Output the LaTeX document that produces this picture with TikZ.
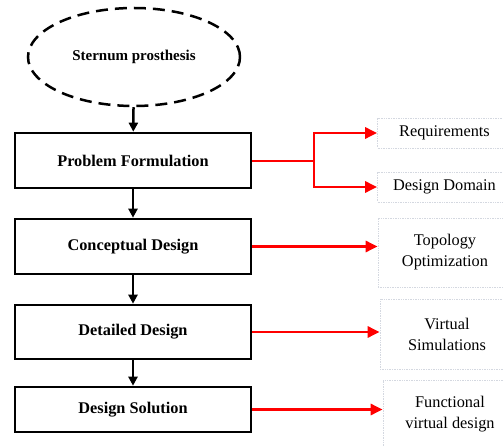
\documentclass[tikz,border=0pt]{standalone}
\usepackage{fontspec}
\setmainfont{Liberation Serif}
\usetikzlibrary{arrows.meta, positioning, shapes.geometric}

\begin{document}
\begin{tikzpicture}[x=1pt,y=-1pt,
    stage/.style={draw, line width=2.6pt, minimum width=236pt, minimum height=55pt,
      font=\bfseries\fontsize{16.3}{19}\selectfont},
    task/.style={draw={rgb,255:red,212;green,216;blue,224}, densely dotted, line width=0.7pt,
      minimum width=134pt, align=center, font=\fontsize{16.3}{21}\selectfont},
    flow/.style={line width=2.5pt, -{Triangle[length=9pt,width=9pt]}},
    link/.style={red, line width=2.8pt, -{Triangle[length=12pt,width=11pt]}}]
    \useasboundingbox (0,0) rectangle (503,446);
    \clip (0,0) rectangle (503,446);
    % left column
    \node[ellipse, draw, dash pattern=on 12pt off 7pt, line width=2.5pt,
      minimum width=212pt, minimum height=98pt,
      font=\bfseries\fontsize{15}{18}\selectfont] (prosthesis) at (134,57) {Sternum prosthesis};
    \node[stage] (problem) at (133,160.5) {Problem Formulation};
    \node[stage] (concept) at (133,246.5) {Conceptual Design};
    \node[stage, minimum height=54pt] (detail) at (133,332) {Detailed Design};
    \node[stage, minimum height=45pt] (solution) at (133,409.5) {Design Solution};
    % right column
    \node[task, minimum height=30pt] (require) at (444.5,133) {Requirements};
    \node[task, minimum height=30pt] (domain) at (444.5,187) {Design Domain};
    \node[task, minimum height=69pt] (topo) at (445,252.5) {Topology\\Optimization};
    \node[task, minimum height=70pt] (virtual) at (447,334) {Virtual\\Simulations};
    \node[task, minimum height=68pt] (func) at (450,414) {Functional\\virtual design};
    % black flow
    \draw[flow] (prosthesis) -- (problem);
    \draw[flow] (problem) -- (concept);
    \draw[flow] (concept) -- (detail);
    \draw[flow] (detail) -- (solution);
    % red links
    \coordinate (fork) at (314,161);
    \draw[red, line width=2.8pt] (problem.east |- fork) -- (fork);
    \draw[link] (fork) |- (require.west);
    \draw[link] (fork) |- (domain.west);
    \draw[link] (concept.east) -- (concept.east -| topo.west);
    \draw[link] (detail.east) -- (detail.east -| virtual.west);
    \draw[link] (solution.east) -- (solution.east -| func.west);
\end{tikzpicture}
\end{document}
